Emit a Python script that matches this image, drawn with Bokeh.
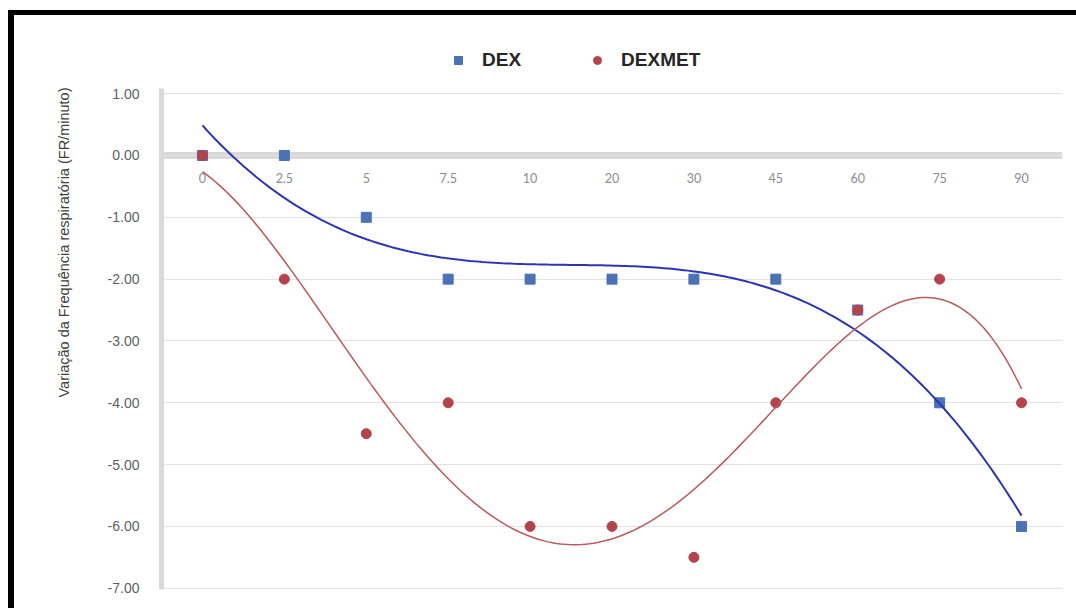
import numpy as np
from bokeh.plotting import figure
from bokeh.models import (Legend, LegendItem, LinearAxis, FixedTicker,
                          NumeralTickFormatter, Range1d, Grid, Title)
from bokeh.embed import file_html
from bokeh.resources import INLINE

# ---- data ----
categories = ["0", "2.5", "5", "7.5", "10", "20", "30", "45", "60", "75", "90"]
dex = [0, 0, -1, -2, -2, -2, -2, -2, -2.5, -4, -6]
dexmet = [0, -2, -4.5, -4, -6, -6, -6.5, -4, -2.5, -2, -4]
y_ticks = [1, 0, -1, -2, -3, -4, -5, -6, -7]
y_title = "Variação da Frequência respiratória (FR/minuto)"

xi = np.arange(len(categories))

p = figure(width=1062, height=593, output_backend="svg", toolbar_location=None,
           x_range=Range1d(-0.5, len(categories) - 0.5),
           y_range=Range1d(-7.02, 1.86),
           min_border_left=147, min_border_right=14,
           min_border_top=25, min_border_bottom=19,
           x_axis_location=None, y_axis_location=None)
p.margin = (15, 0, 0, 14)
p.styles = {"box-shadow": "-6px 0 0 0 #000, 0 -5px 0 0 #000, -6px -5px 0 0 #000"}
p.outline_line_color = None
p.background_fill_color = "white"
p.border_fill_color = "white"

# y axis
ya = LinearAxis(ticker=FixedTicker(ticks=y_ticks),
                formatter=NumeralTickFormatter(format="0.00"),
                bounds=(-7.08, 1.08))
ya.axis_line_color = "#d9d9d9"
ya.axis_line_width = 5
ya.major_tick_line_color = None
ya.minor_tick_line_color = None
ya.major_label_text_font = "Liberation Sans"
ya.major_label_text_font_size = "14px"
ya.major_label_text_color = "#5f5f5f"
ya.major_label_standoff = 16
p.add_layout(ya, "left")

t = Title(text=y_title, align="right", text_font="Liberation Sans",
          text_font_size="14.5px", text_font_style="normal",
          text_color="#404040", standoff=65, offset=47)
p.add_layout(t, "left")

# x axis at y = 0
xa = LinearAxis(ticker=FixedTicker(ticks=list(xi)),
                major_label_overrides={int(i): c for i, c in zip(xi, categories)})
xa.fixed_location = 0
xa.axis_line_color = "#d9d9d9"
xa.axis_line_width = 7
xa.major_tick_line_color = None
xa.minor_tick_line_color = None
xa.major_label_text_font = "Lato"
xa.major_label_text_font_size = "12.5px"
xa.major_label_text_color = "#8c8c8c"
xa.major_label_standoff = 12
xa.level = "underlay"
p.add_layout(xa, "below")

p.xgrid.grid_line_color = None
p.ygrid.grid_line_color = None
g = Grid(dimension=1, ticker=FixedTicker(ticks=y_ticks),
         grid_line_color="#e3e3e3", grid_line_width=1)
p.add_layout(g)

# trend lines (polynomial fits of the data)
xs = np.linspace(0, len(categories) - 1, 200)
dex_fit = np.polyval(np.polyfit(xi + 1, dex, 3), xs + 1)
dexmet_fit = np.polyval(np.polyfit(xi + 1, dexmet, 4), xs + 1)

r_dex = p.scatter(xi, dex, marker="square", size=10, color="#4a72b5")
r_met = p.scatter(xi, dexmet, marker="circle", size=10, color="#b5434b")
p.line(xs, dex_fit, line_color="#2f35b0", line_width=2)
p.line(xs, dexmet_fit, line_color="#b85a5e", line_width=1.5)

legend = Legend(items=[LegendItem(label="DEX", renderers=[r_dex]),
                       LegendItem(label="DEXMET", renderers=[r_met])],
                orientation="horizontal", location=(283, 518))
legend.label_text_font = "Liberation Sans"
legend.label_text_font_size = "19px"
legend.label_text_font_style = "bold"
legend.label_text_color = "#262626"
legend.glyph_width = 28
legend.label_standoff = 10
legend.spacing = 62
legend.padding = 0
legend.margin = 0
legend.border_line_color = None
legend.background_fill_alpha = 0
p.add_layout(legend, "center")

open("out.html", "w").write(file_html(p, INLINE))
